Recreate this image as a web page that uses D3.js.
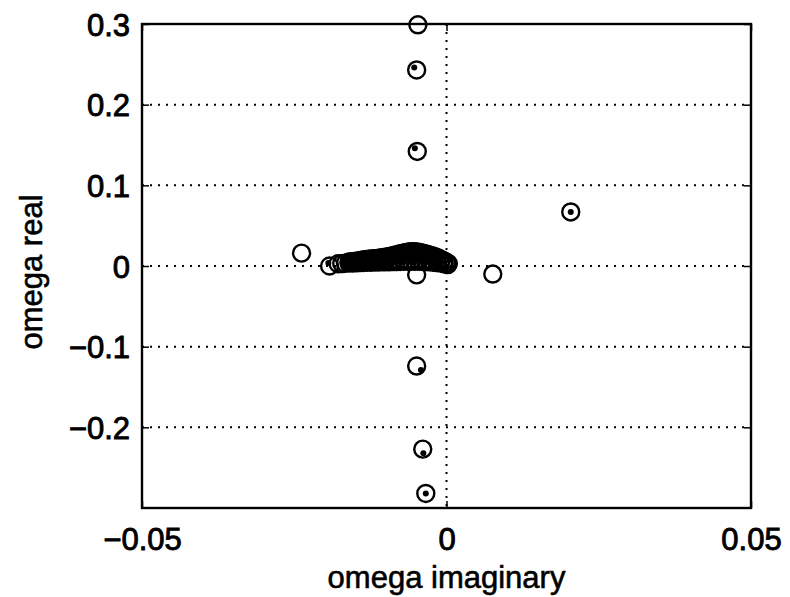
<!DOCTYPE html>
<html>
<head>
<meta charset="utf-8">
<script src="https://cdn.jsdelivr.net/npm/d3@7"></script>
<style>
  body { margin: 0; background: #fff; }
  text { font-family: "Liberation Sans", Arial, Helvetica, sans-serif; fill: #000; }
</style>
</head>
<body>
<svg id="chart" width="790" height="597"></svg>
<script>
// isolated open circles (imaginary part, real part)
const circleImag = [-0.0047, -0.0049, -0.0048, 0.0204, 0.0076, -0.0049, -0.0238, -0.0192,
  -0.0049, -0.0039, -0.0034, -0.0178];
const circleReal = [0.299, 0.243, 0.142, 0.067, -0.010, -0.011, 0.016, 0.000,
  -0.124, -0.227, -0.282, 0.0028];

// dense cluster near the origin, upper branch
const bandUpperImag = [-0.0160, -0.0156, -0.0152, -0.0148, -0.0144, -0.0140, -0.0136, -0.0132,
  -0.0128, -0.0124, -0.0120, -0.0116, -0.0112, -0.0108, -0.0104, -0.0100, -0.0096, -0.0092,
  -0.0088, -0.0084, -0.0080, -0.0076, -0.0072, -0.0068, -0.0064, -0.0060, -0.0056, -0.0052,
  -0.0048, -0.0044, -0.0040, -0.0036, -0.0032, -0.0028, -0.0024, -0.0020, -0.0016, -0.0012,
  -0.0008, -0.0004, 0.0000, 0.0003];
const bandUpperReal = [0.0050, 0.0053, 0.0057, 0.0061, 0.0066, 0.0071, 0.0076, 0.0080,
  0.0083, 0.0086, 0.0089, 0.0092, 0.0096, 0.0100, 0.0105, 0.0110, 0.0116, 0.0122,
  0.0129, 0.0136, 0.0143, 0.0151, 0.0159, 0.0166, 0.0172, 0.0176, 0.0178, 0.0177,
  0.0174, 0.0168, 0.0161, 0.0153, 0.0145, 0.0137, 0.0128, 0.0118, 0.0106, 0.0093,
  0.0078, 0.0062, 0.0046, 0.0030];

// dense cluster near the origin, lower branch
const bandLowerImag = [-0.0172, -0.0166, -0.0160, -0.0154, -0.0148, -0.0142, -0.0136, -0.0130,
  -0.0124, -0.0118, -0.0112, -0.0106, -0.0100, -0.0094, -0.0088, -0.0082, -0.0076, -0.0070,
  -0.0064, -0.0058, -0.0052, -0.0046, -0.0040, -0.0034, -0.0028, -0.0022, -0.0016, -0.0010,
  -0.0004, 0.0002];
const bandLowerReal = [0.0030, 0.0034, 0.0036, 0.0038, 0.0040, 0.0042, 0.0044, 0.0045,
  0.0047, 0.0048, 0.0050, 0.0051, 0.0052, 0.0053, 0.0054, 0.0055, 0.0056, 0.0057,
  0.0058, 0.0058, 0.0058, 0.0057, 0.0056, 0.0054, 0.0051, 0.0047, 0.0042, 0.0036,
  0.0028, 0.0018];

// dot markers
const dotImag = [-0.0053, -0.0052, 0.0204, -0.0042, -0.0038, -0.0034, -0.0194,
  -0.0170, -0.0158, -0.0145, -0.0130, -0.0115, -0.0100, -0.0085, -0.0070, -0.0055,
  -0.0040, -0.0025, -0.0010];
const dotReal = [0.246, 0.146, 0.067, -0.129, -0.232, -0.282, 0.0037,
  0.004, 0.005, 0.006, 0.007, 0.008, 0.010, 0.012, 0.015, 0.016,
  0.014, 0.010, 0.005];

const xTicks = [-0.05, 0, 0.05];
const yTicks = [-0.3, -0.2, -0.1, 0, 0.1, 0.2, 0.3];
const yLabelTicks = [-0.2, -0.1, 0, 0.1, 0.2, 0.3];

const svg = d3.select('#chart');
const margin = { top: 24, right: 39, bottom: 89, left: 142 };
const width = +svg.attr('width') - margin.left - margin.right;
const height = +svg.attr('height') - margin.top - margin.bottom;

const x = d3.scaleLinear().domain([-0.05, 0.05]).range([0, width]);
const y = d3.scaleLinear().domain([-0.3, 0.3]).range([height, 0]);
const fmt = d3.format('');

const g = svg.append('g').attr('transform', `translate(${margin.left},${margin.top})`);

// dotted grid at the ticks
g.selectAll('.hgrid')
  .data(yTicks.filter(d => Math.abs(d) < 0.3))
  .enter().append('line')
  .attr('x1', 0).attr('x2', width)
  .attr('y1', d => y(d)).attr('y2', d => y(d))
  .attr('stroke', '#000').attr('stroke-width', 2)
  .attr('stroke-dasharray', '2,6');

g.selectAll('.vgrid')
  .data(xTicks.filter(d => Math.abs(d) < 0.05))
  .enter().append('line')
  .attr('y1', 0).attr('y2', height)
  .attr('x1', d => x(d)).attr('x2', d => x(d))
  .attr('stroke', '#000').attr('stroke-width', 2)
  .attr('stroke-dasharray', '2,6');

// markers
const pairs = (a, b) => a.map((v, i) => ({ im: v, re: b[i] }));
const circles = pairs(circleImag, circleReal)
  .concat(pairs(bandUpperImag, bandUpperReal))
  .concat(pairs(bandLowerImag, bandLowerReal));
const dots = pairs(dotImag, dotReal);

g.selectAll('.circ')
  .data(circles)
  .enter().append('circle')
  .attr('cx', d => x(d.im))
  .attr('cy', d => y(d.re))
  .attr('r', 8.5)
  .attr('fill', 'none')
  .attr('stroke', '#000')
  .attr('stroke-width', 2.4);

g.selectAll('.dot')
  .data(dots)
  .enter().append('circle')
  .attr('cx', d => x(d.im))
  .attr('cy', d => y(d.re))
  .attr('r', 3)
  .attr('fill', '#000');

// axes box with inward ticks
const xAxis = d3.axisBottom(x).tickValues(xTicks).tickSize(-7).tickPadding(20).tickFormat(fmt);
const yAxis = d3.axisLeft(y).tickValues(yLabelTicks).tickSize(-7).tickPadding(12).tickFormat(fmt);

const gx = g.append('g').attr('transform', `translate(0,${height})`).call(xAxis);
const gy = g.append('g').call(yAxis);
g.append('g').call(d3.axisTop(x).tickValues(xTicks).tickSize(-7).tickFormat(''));
g.append('g').attr('transform', `translate(${width},0)`)
  .call(d3.axisRight(y).tickValues(yLabelTicks).tickSize(-7).tickFormat(''));

g.selectAll('.domain').remove();
g.selectAll('.tick line').attr('stroke', '#000').attr('stroke-width', 1.5);

g.append('rect')
  .attr('width', width).attr('height', height)
  .attr('fill', 'none').attr('stroke', '#000').attr('stroke-width', 2.4);

[gx, gy].forEach(a => a.selectAll('text')
  .attr('font-size', 31)
  .attr('font-family', '"Liberation Sans", Arial, sans-serif')
  .attr('stroke', '#000').attr('stroke-width', 0.9));
gy.selectAll('text').attr('dy', '0.36em');

// axis titles
svg.append('text')
  .attr('x', margin.left + width / 2).attr('y', 588)
  .attr('text-anchor', 'middle')
  .attr('font-size', 31)
  .attr('stroke', '#000').attr('stroke-width', 0.6)
  .text('omega imaginary');

svg.append('text')
  .attr('transform', `translate(42,${margin.top + height / 2 + 6}) rotate(-90)`)
  .attr('text-anchor', 'middle')
  .attr('font-size', 31)
  .attr('stroke', '#000').attr('stroke-width', 0.6)
  .text('omega real');
</script>
</body>
</html>
